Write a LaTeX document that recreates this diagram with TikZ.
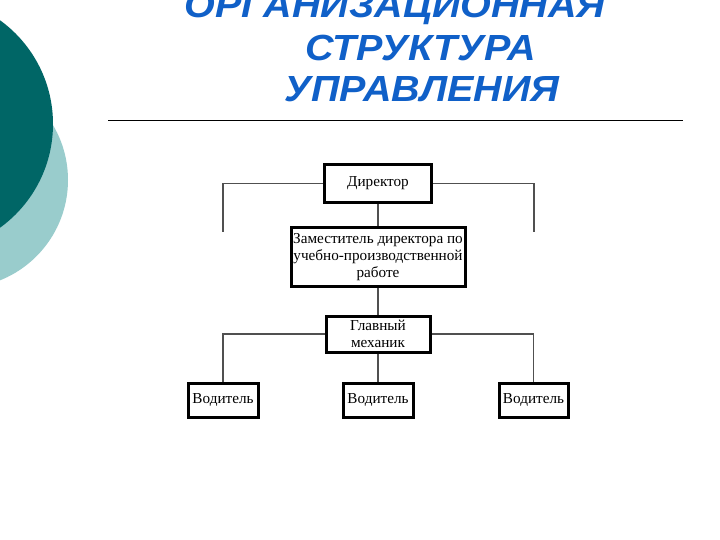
\documentclass[tikz,border=0pt]{standalone}
\usepackage{fontspec}
\setmainfont{Liberation Serif}
\newfontfamily\titlefont{Liberation Sans}
\definecolor{tealdark}{RGB}{0,102,102}
\definecolor{teallight}{RGB}{153,204,204}
\definecolor{titleblue}{RGB}{16,96,200}
\definecolor{linegray}{RGB}{80,80,80}
\newcommand{\ttltext}[1]{\scalebox{1}[0.92]{#1}}
\begin{document}
\begin{tikzpicture}[x=1pt,y=-1pt,
  orgbox/.style={draw=black,line width=3pt,fill=white,inner sep=0pt,align=center,
    font=\fontsize{15.2}{17}\selectfont},
  conn/.style={draw=linegray,line width=1.1pt},
  ttl/.style={anchor=base,text=titleblue,font=\titlefont\bfseries\itshape\fontsize{39.5}{42}\selectfont,inner sep=0pt}]
\useasboundingbox (0,0) rectangle (720,540);
\fill[white] (0,0) rectangle (720,540);
% decorative circles
\fill[teallight] (-40,180) circle (108);
\fill[tealdark] (-75,124) circle (128);
% title
\node[ttl] (t1) at (395,18) {\ttltext{ОРГАНИЗАЦИОННАЯ}};
\node[ttl] (t2) at (421,61) {\ttltext{СТРУКТУРА}};
\node[ttl] (t3) at (422,102) {\ttltext{УПРАВЛЕНИЯ}};
\coordinate (ra) at (108,120);
\coordinate (rb) at (683,120);
\draw[line width=0.9pt] (ra) -- (rb);
% boxes
\node[orgbox,minimum width=107pt,minimum height=38pt] (dir) at (378,183.5) {Директор};
\node[orgbox,minimum width=174pt,minimum height=58pt] (zam) at (378,257) {Заместитель директора по\\учебно-производственной\\работе};
\node[orgbox,minimum width=104pt,minimum height=36pt] (mech) at (378,334) {Главный\\механик};
\node[orgbox,minimum width=70pt,minimum height=34pt] (v1) at (223,400) {Водитель};
\node[orgbox,minimum width=70pt,minimum height=34pt] (v2) at (378,400) {Водитель};
\node[orgbox,minimum width=69pt,minimum height=34pt] (v3) at (533.5,400) {Водитель};
\coordinate (dl) at (223,232);
\coordinate (dr) at (534,232);
% connectors
\draw[conn] (dir.west) -| (dl);
\draw[conn] (dir.east) -| (dr);
\draw[conn] (dir.south) -- (zam.north);
\draw[conn] (zam.south) -- (mech.north);
\draw[conn] (mech.west) -| (v1.north);
\draw[conn] (mech.east) -| (v3.north);
\draw[conn] (mech.south) -- (v2.north);
\end{tikzpicture}
\end{document}
